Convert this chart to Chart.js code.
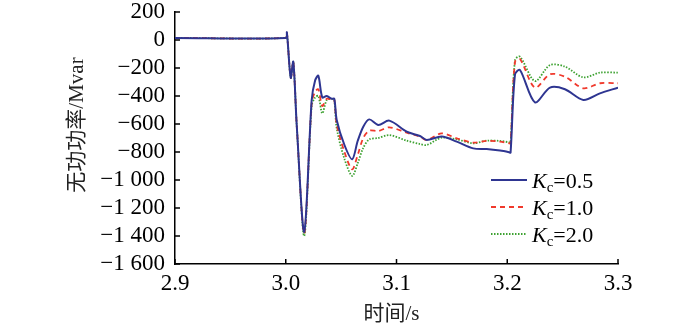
<!DOCTYPE html>
<html>
<head>
<meta charset="utf-8">
<script src="https://cdn.jsdelivr.net/npm/chart.js@4.4.0/dist/chart.umd.min.js"></script>
<style>
  html, body { margin: 0; padding: 0; background: #fff; }
  #wrap { width: 700px; height: 328px; }
</style>
</head>
<body>
<div id="wrap"><canvas id="c" width="700" height="328"></canvas></div>
<script>
// time axis (s)
const times = [2.9, 3.0, 3.001, 3.0045, 3.0068, 3.0099, 3.0167, 3.0234, 3.0265, 3.0294,
  3.033, 3.037, 3.0415, 3.0438, 3.046, 3.053, 3.060, 3.065, 3.070, 3.0754,
  3.0836, 3.0935, 3.1092, 3.1212, 3.1273, 3.1408, 3.1544, 3.1693, 3.1814, 3.1935,
  3.2018, 3.203, 3.207, 3.2115, 3.225, 3.2386, 3.2521, 3.2687, 3.2837, 3.3];

// reactive power (Mvar)
const kc05 = [15, 15, 55, -270, -155, -607, -1370, -430, -290, -255,
  -410, -400, -420, -420, -571, -750, -852, -720, -619, -567,
  -607, -576, -655, -686, -714, -690, -726, -774, -779, -790,
  -802, -805, -245, -214, -445, -340, -352, -428, -381, -340];
const kc10 = [15, 15, 55, -270, -155, -607, -1380, -450, -370, -352,
  -471, -420, -425, -425, -600, -800, -924, -820, -700, -648,
  -650, -624, -662, -690, -714, -667, -702, -733, -721, -726,
  -738, -740, -155, -136, -340, -245, -262, -345, -309, -309];
const kc20 = [15, 15, 55, -270, -155, -607, -1400, -470, -410, -400,
  -524, -430, -420, -430, -630, -850, -971, -880, -770, -710,
  -700, -679, -719, -743, -750, -698, -710, -738, -719, -721,
  -731, -733, -143, -119, -293, -179, -190, -267, -233, -233];

const legendValues = ['0.5', '1.0', '2.0'];
const xTicks = [2.9, 3.0, 3.1, 3.2, 3.3];
const yTicks = [200, 0, -200, -400, -600, -800, -1000, -1200, -1400, -1600];

const serif = '"Liberation Serif", "Noto Sans CJK SC", serif';
const toPts = vals => vals.map((v, i) => ({ x: times[i], y: v }));

function fmtY(v) {
  const s = Math.abs(v).toString();
  const body = s.length > 3 ? s.slice(0, s.length - 3) + ' ' + s.slice(-3) : s;
  return (v < 0 ? '\u2212' : '') + body;
}

const extras = {
  id: 'extras',
  afterDraw(chart) {
    const { ctx, chartArea, scales } = chart;
    const xs = scales.x, ys = scales.y;
    ctx.save();
    ctx.strokeStyle = '#000';
    ctx.lineWidth = 1.5;
    // inward ticks
    xTicks.forEach(t => {
      const px = xs.getPixelForValue(t);
      ctx.beginPath();
      ctx.moveTo(px, chartArea.bottom);
      ctx.lineTo(px, chartArea.bottom - 5);
      ctx.stroke();
    });
    yTicks.forEach(t => {
      const py = ys.getPixelForValue(t);
      ctx.beginPath();
      ctx.moveTo(chartArea.left, py);
      ctx.lineTo(chartArea.left + 5, py);
      ctx.stroke();
    });

    // axis titles
    ctx.fillStyle = '#222';
    ctx.font = '21px ' + serif;
    ctx.textAlign = 'center';
    ctx.textBaseline = 'middle';
    ctx.fillText('时间/s', (chartArea.left + chartArea.right) / 2 - 5, 314);
    ctx.save();
    ctx.translate(77, 125);
    ctx.rotate(-Math.PI / 2);
    ctx.fillText('无功功率/Mvar', 0, 0);
    ctx.restore();

    // legend
    const rows = [180, 207, 234];
    chart.data.datasets.forEach((ds, i) => {
      const y = rows[i];
      ctx.save();
      ctx.strokeStyle = ds.borderColor;
      ctx.lineWidth = ds.borderWidth;
      ctx.setLineDash(ds.borderDash || []);
      ctx.beginPath();
      ctx.moveTo(491, y);
      ctx.lineTo(527, y);
      ctx.stroke();
      ctx.restore();
      ctx.fillStyle = '#000';
      ctx.textAlign = 'left';
      ctx.textBaseline = 'alphabetic';
      let x = 532;
      ctx.font = 'italic 22px ' + serif;
      ctx.fillText('K', x, y + 8);
      x += ctx.measureText('K').width;
      ctx.font = '15px ' + serif;
      ctx.fillText('c', x, y + 12);
      x += ctx.measureText('c').width;
      ctx.font = '22px ' + serif;
      ctx.fillText('=' + legendValues[i], x, y + 8);
    });
    ctx.restore();
  }
};

new Chart(document.getElementById('c'), {
  type: 'line',
  data: {
    datasets: [
      { label: 'Kc=0.5', data: toPts(kc05), borderColor: '#2e3591', borderWidth: 2, pointRadius: 0, tension: 0.3 },
      { label: 'Kc=1.0', data: toPts(kc10), borderColor: '#f0392c', borderWidth: 1.8, borderDash: [5, 4], pointRadius: 0, tension: 0.3 },
      { label: 'Kc=2.0', data: toPts(kc20), borderColor: '#3ea232', borderWidth: 1.8, borderDash: [1.5, 1.5], pointRadius: 0, tension: 0.3 }
    ]
  },
  options: {
    responsive: false,
    animation: false,
    events: [],
    layout: { padding: { top: 12, right: 82, left: 0, bottom: 0 } },
    plugins: { legend: { display: false }, tooltip: { enabled: false } },
    scales: {
      x: {
        type: 'linear', min: 2.9, max: 3.3,
        afterFit(s) { s.height = 64; s.paddingLeft = 0; s.paddingRight = 0; },
        afterBuildTicks(s) { s.ticks = xTicks.map(v => ({ value: v })); },
        grid: { display: true, drawOnChartArea: false, drawTicks: false },
        border: { display: true, color: '#000', width: 1.5 },
        ticks: { padding: 6, color: '#000', autoSkip: false, font: { family: serif, size: 23 }, callback: v => v.toFixed(1), maxRotation: 0 }
      },
      y: {
        min: -1600, max: 200,
        afterFit(s) { s.width = 175; s.paddingTop = 0; s.paddingBottom = 0; },
        afterBuildTicks(s) { s.ticks = yTicks.map(v => ({ value: v })); },
        grid: { display: true, drawOnChartArea: false, drawTicks: false },
        border: { display: true, color: '#000', width: 1.5 },
        ticks: { padding: 10, color: '#000', autoSkip: false, font: { family: serif, size: 23 }, callback: v => fmtY(v) }
      }
    }
  },
  plugins: [extras]
});
</script>
</body>
</html>
